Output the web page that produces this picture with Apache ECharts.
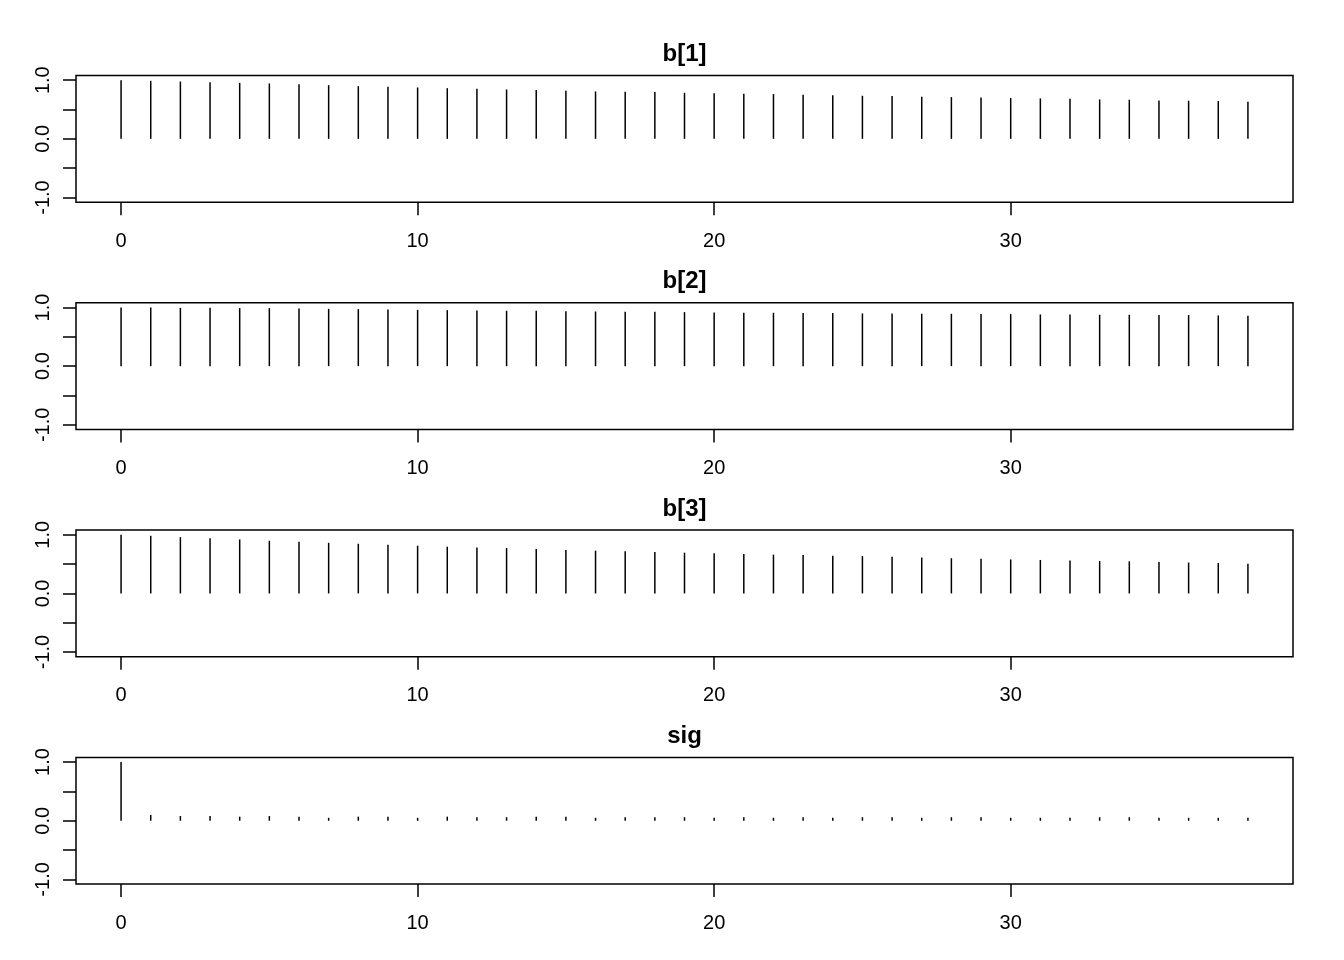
<!DOCTYPE html>
<html>
<head>
<meta charset="utf-8">
<script src="https://cdn.jsdelivr.net/npm/echarts@6/dist/echarts.min.js"></script>
<style>html,body{margin:0;padding:0;background:#fff;}#c{width:1344px;height:960px;}</style>
</head>
<body>
<div id="c"></div>
<script>
const titles = ["b[1]", "b[2]", "b[3]", "sig"];
const lags = [0,1,2,3,4,5,6,7,8,9,10,11,12,13,14,15,16,17,18,19,20,21,22,23,24,25,26,27,28,29,30,31,32,33,34,35,36,37,38];
const acfB1 = [1.0, 0.989, 0.977, 0.966, 0.955, 0.944, 0.932, 0.915, 0.898, 0.887, 0.876, 0.864, 0.853, 0.842, 0.831, 0.819, 0.808, 0.802, 0.797, 0.785, 0.776, 0.768, 0.763, 0.751, 0.745, 0.734, 0.729, 0.718, 0.712, 0.706, 0.695, 0.690, 0.684, 0.672, 0.667, 0.655, 0.650, 0.644, 0.633];
const acfB2 = [1.0, 1.0, 0.994, 0.994, 0.989, 0.989, 0.983, 0.977, 0.972, 0.966, 0.960, 0.955, 0.949, 0.944, 0.944, 0.938, 0.932, 0.927, 0.927, 0.921, 0.915, 0.910, 0.910, 0.904, 0.904, 0.898, 0.898, 0.893, 0.893, 0.887, 0.887, 0.881, 0.881, 0.876, 0.876, 0.870, 0.870, 0.864, 0.859];
const acfB3 = [1.0, 0.983, 0.960, 0.943, 0.921, 0.898, 0.881, 0.864, 0.847, 0.831, 0.814, 0.797, 0.785, 0.774, 0.757, 0.740, 0.729, 0.718, 0.706, 0.695, 0.684, 0.672, 0.661, 0.655, 0.644, 0.636, 0.625, 0.612, 0.600, 0.590, 0.580, 0.571, 0.560, 0.554, 0.548, 0.537, 0.527, 0.520, 0.508];
const acfSig = [1.0, 0.10, 0.08, 0.08, 0.07, 0.08, 0.07, 0.05, 0.07, 0.07, 0.05, 0.07, 0.06, 0.06, 0.07, 0.07, 0.05, 0.06, 0.06, 0.06, 0.05, 0.06, 0.05, 0.06, 0.05, 0.06, 0.06, 0.05, 0.06, 0.06, 0.05, 0.05, 0.05, 0.06, 0.06, 0.05, 0.05, 0.05, 0.05];
const xTickValues = [0, 10, 20, 30];
const yTickValues = [-1, -0.5, 0, 0.5, 1];
const yLabelValues = [-1, 0, 1];

const series = [acfB1, acfB2, acfB3, acfSig];
const FONT = "'Liberation Sans', Arial, Helvetica, sans-serif";
const panelTop = 75.5, panelStep = 227.3, panelH = 126.7;

const grids = [], xAxes = [], yAxes = [], titleOpts = [], seriesOpts = [];
series.forEach((vals, i) => {
  const top = panelTop + panelStep * i;
  grids.push({left: 76, right: 51, top: top, height: panelH, show: true,
    borderColor: '#000', borderWidth: 1.5, backgroundColor: 'transparent'});
  xAxes.push({type: 'value', gridIndex: i, min: -1.52, max: 39.52, position: 'bottom',
    axisLine: {show: false, onZero: false}, splitLine: {show: false},
    axisTick: {show: true, length: 13, customValues: xTickValues, lineStyle: {color: '#000', width: 1.5}},
    axisLabel: {show: true, customValues: xTickValues, color: '#000', fontSize: 20, fontFamily: FONT, margin: 29}
  });
  yAxes.push({type: 'value', gridIndex: i, min: -1.08, max: 1.08, position: 'left',
    axisLine: {show: false, onZero: false}, splitLine: {show: false},
    axisTick: {show: true, length: 13, customValues: yTickValues, lineStyle: {color: '#000', width: 1.5}},
    axisLabel: {show: true, customValues: yLabelValues, rotate: 90, color: '#000', fontSize: 20, fontFamily: FONT, margin: 23,
      formatter: v => Number(v).toFixed(1)}
  });
  titleOpts.push({text: titles[i], left: 679.5, textAlign: 'center', top: top - 38,
    textStyle: {fontSize: 24, fontWeight: 'bold', color: '#000', fontFamily: FONT}});
  seriesOpts.push({type: 'custom', xAxisIndex: i, yAxisIndex: i,
    data: lags.map((l, k) => [l, vals[k]]),
    renderItem: function (params, api) {
      const p0 = api.coord([api.value(0), 0]);
      const p1 = api.coord([api.value(0), api.value(1)]);
      return {type: 'line', shape: {x1: p0[0], y1: p0[1], x2: p1[0], y2: p1[1]},
        style: {stroke: '#000', lineWidth: 1.5}};
    }
  });
});

const chart = echarts.init(document.getElementById('c'), null, {renderer: 'canvas'});
chart.setOption({
  backgroundColor: '#fff',
  animation: false,
  title: titleOpts,
  grid: grids,
  xAxis: xAxes,
  yAxis: yAxes,
  series: seriesOpts
});
</script>
</body>
</html>
